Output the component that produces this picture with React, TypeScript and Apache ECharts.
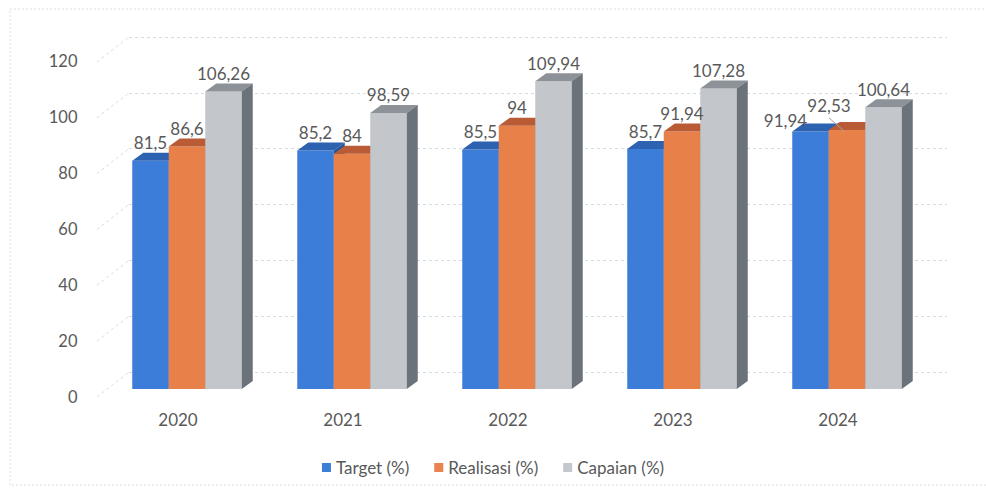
import React, { useEffect, useRef } from "react";
import * as echarts from "echarts";

const categories = ["2020", "2021", "2022", "2023", "2024"];
const seriesNames = ["Target (%)", "Realisasi (%)", "Capaian (%)"];
const targetValues = [81.5, 85.2, 85.5, 85.7, 91.94];
const realisasiValues = [86.6, 84, 94, 91.94, 92.53];
const capaianValues = [106.26, 98.59, 109.94, 107.28, 100.64];
const yTicks = [0, 20, 40, 60, 80, 100, 120];

const allValues = [targetValues, realisasiValues, capaianValues];

const FRONT = ["#3b7dd8", "#e8804a", "#c3c6cb"];
const TOP = ["#2d62b0", "#b95c36", "#8c9298"];
const SIDE = ["#27569c", "#a4512f", "#6c7279"];
const LEGEND = ["#3b7fd9", "#ea834d", "#c4c8cd"];
const TEXT = "#595959";
const FONT = "Lato, 'Open Sans', sans-serif";
const DX = 11;
const DY = 8;
const BAR_RATIO = 36.5 / 165;
const LABEL_NUDGE: Record<string, [number, number]> = {
  "4-0": [-25, 7],
  "4-1": [-18, -6],
};
const LEADER = "4-1";

const fmt = (v: number) => String(v).replace(".", ",");

function barGeom(api: any, s: number) {
  const cat = api.value(0);
  const v = api.value(1);
  const top = api.coord([cat, v]);
  const base = api.coord([cat, 0]);
  const band = api.size([1, 0])[0];
  const w = band * BAR_RATIO;
  const x0 = top[0] - 1.5 * w + s * w;
  return { x0, x1: x0 + w, yt: top[1], yb: base[1], w, cat, v };
}

export default function App() {
  const ref = useRef<HTMLDivElement>(null);
  useEffect(() => {
    if (!ref.current) return;
    const chart = echarts.init(ref.current, undefined, { renderer: "svg" });

    const barSeries = allValues.map((vals, s) => ({
      type: "custom",
      name: seriesNames[s],
      xAxisIndex: 0,
      yAxisIndex: 0,
      z: 3,
      itemStyle: { color: LEGEND[s] },
      encode: { x: 0, y: 1 },
      data: categories.map((_, i) => [i, vals[i]]),
      renderItem: (_p: any, api: any) => {
        const g = barGeom(api, s);
        return {
          type: "group",
          children: [
            { type: "rect", shape: { x: g.x0, y: g.yt, width: g.w, height: g.yb - g.yt }, style: { fill: FRONT[s] } },
            {
              type: "polygon",
              shape: { points: [[g.x0, g.yt], [g.x0 + DX, g.yt - DY], [g.x1 + DX, g.yt - DY], [g.x1, g.yt]] },
              style: { fill: TOP[s] },
            },
            {
              type: "polygon",
              shape: { points: [[g.x1, g.yt], [g.x1 + DX, g.yt - DY], [g.x1 + DX, g.yb - DY], [g.x1, g.yb]] },
              style: { fill: SIDE[s] },
            },
          ],
        };
      },
    }));

    const labelSeries = allValues.map((vals, s) => ({
      type: "custom",
      name: "label-" + s,
      xAxisIndex: 0,
      yAxisIndex: 0,
      z: 10,
      silent: true,
      encode: { x: 0, y: 1 },
      data: categories.map((_, i) => [i, vals[i]]),
      renderItem: (_p: any, api: any) => {
        const g = barGeom(api, s);
        const key = g.cat + "-" + s;
        const n = LABEL_NUDGE[key] || [0, 0];
        const lx = (g.x0 + g.x1) / 2 + n[0];
        const ly = g.yt - 18 + n[1];
        const children: any[] = [
          {
            type: "text",
            x: lx,
            y: ly,
            style: {
              text: fmt(g.v),
              fill: TEXT,
              font: "17px " + FONT,
              textAlign: "center",
              textVerticalAlign: "middle",
            },
          },
        ];
        if (key === LEADER) {
          children.push({
            type: "line",
            shape: { x1: lx, y1: ly + 12, x2: lx + 16, y2: ly + 26 },
            style: { stroke: "#a6a6a6", lineWidth: 1 },
          });
        }
        return { type: "group", children };
      },
    }));

    const diagSeries = {
      type: "custom",
      name: "walls",
      xAxisIndex: 1,
      yAxisIndex: 1,
      z: 1,
      silent: true,
      data: yTicks.map((v) => [0, v]),
      renderItem: (_p: any, api: any) => {
        const p = api.coord([0, api.value(1)]);
        return {
          type: "line",
          shape: { x1: p[0] - 32, y1: p[1] + 25, x2: p[0], y2: p[1] },
          style: { stroke: "#d6dce4", lineWidth: 1, lineDash: [3, 3] },
        };
      },
    };

    chart.setOption({
      animation: false,
      backgroundColor: "#ffffff",
      textStyle: { fontFamily: FONT },
      graphic: [
        {
          type: "rect",
          shape: { x: 10, y: 9, width: 990, height: 476 },
          style: { fill: "none", stroke: "#dedede", lineWidth: 1, lineDash: [2, 2] },
          silent: true,
          z: -1,
        },
      ],
      legend: {
        data: seriesNames,
        top: 454,
        left: "center",
        icon: "rect",
        itemWidth: 9,
        itemHeight: 9,
        itemGap: 25,
        textStyle: { color: TEXT, fontSize: 17, fontFamily: FONT },
      },
      grid: [
        { left: 104.5, right: 56.5, top: 53, bottom: 103 },
        { left: 129, right: 39, top: 37, bottom: 120 },
      ],
      xAxis: [
        {
          type: "category",
          gridIndex: 0,
          data: categories,
          axisLine: { show: false },
          axisTick: { show: false },
          axisLabel: { color: TEXT, fontSize: 17, fontFamily: FONT, margin: 22, padding: [0, 18, 0, 0] },
        },
        { type: "value", gridIndex: 1, min: 0, max: 1, show: false },
      ],
      yAxis: [
        {
          type: "value",
          gridIndex: 0,
          min: 0,
          max: 120,
          interval: 20,
          axisLine: { show: false },
          axisTick: { show: false },
          splitLine: { show: false },
          axisLabel: {
            color: TEXT,
            fontSize: 16.5,
            fontFamily: FONT,
            margin: 27,
            verticalAlign: "top",
            lineHeight: 16,
          },
        },
        {
          type: "value",
          gridIndex: 1,
          min: 0,
          max: 120,
          interval: 20,
          axisLine: { show: false },
          axisTick: { show: false },
          axisLabel: { show: false },
          splitLine: { show: true, lineStyle: { color: "#d6dce4", type: [3, 3], width: 1 } },
        },
      ],
      series: [diagSeries, ...barSeries, ...labelSeries],
    });
    return () => chart.dispose();
  }, []);
  return (
    <div
      ref={ref}
      style={{ position: "fixed", left: 0, top: 0, width: 986, height: 492 }}
    />
  );
}
